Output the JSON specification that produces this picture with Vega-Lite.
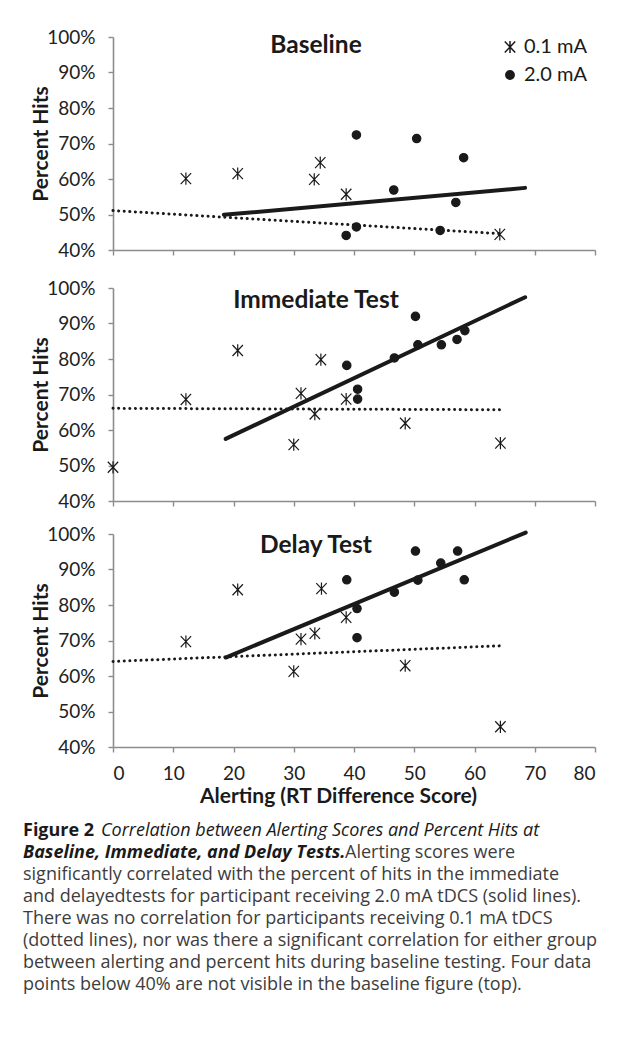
{
  "$schema": "https://vega.github.io/schema/vega-lite/v6.json",
  "background": "white",
  "padding": {"left": 23, "top": 28, "right": 5, "bottom": 5},
  "config": {
    "font": "Lato",
    "view": {"stroke": null},
    "axis": {"grid": false, "domainColor": "#8c8c8c", "domainWidth": 1.6, "tickColor": "#8c8c8c", "tickWidth": 1.4, "tickSize": 5, "labelFont": "Lato", "labelFontSize": 19, "labelColor": "#222222", "titleFont": "Lato", "titleFontSize": 21, "titleFontWeight": "bold", "titleColor": "#1a1a1a"},
    "title": {"font": "Lato", "fontSize": 24.5, "fontWeight": "bold", "color": "#1a1a1a"}
  },
  "datasets": {
    "pts": [
      {"panel": "Baseline", "group": "0.1 mA", "x": 12.1, "y": 0.601},
      {"panel": "Baseline", "group": "0.1 mA", "x": 20.7, "y": 0.615},
      {"panel": "Baseline", "group": "0.1 mA", "x": 33.4, "y": 0.599},
      {"panel": "Baseline", "group": "0.1 mA", "x": 34.4, "y": 0.646},
      {"panel": "Baseline", "group": "0.1 mA", "x": 38.7, "y": 0.557},
      {"panel": "Baseline", "group": "0.1 mA", "x": 64.2, "y": 0.444},
      {"panel": "Baseline", "group": "2.0 mA", "x": 40.4, "y": 0.724},
      {"panel": "Baseline", "group": "2.0 mA", "x": 50.4, "y": 0.714},
      {"panel": "Baseline", "group": "2.0 mA", "x": 58.2, "y": 0.660},
      {"panel": "Baseline", "group": "2.0 mA", "x": 46.6, "y": 0.569},
      {"panel": "Baseline", "group": "2.0 mA", "x": 56.9, "y": 0.534},
      {"panel": "Baseline", "group": "2.0 mA", "x": 40.4, "y": 0.465},
      {"panel": "Baseline", "group": "2.0 mA", "x": 38.7, "y": 0.441},
      {"panel": "Baseline", "group": "2.0 mA", "x": 54.3, "y": 0.455},
      {"panel": "Immediate", "group": "0.1 mA", "x": 0.0, "y": 0.495},
      {"panel": "Immediate", "group": "0.1 mA", "x": 12.1, "y": 0.686},
      {"panel": "Immediate", "group": "0.1 mA", "x": 20.7, "y": 0.824},
      {"panel": "Immediate", "group": "0.1 mA", "x": 34.5, "y": 0.798},
      {"panel": "Immediate", "group": "0.1 mA", "x": 31.2, "y": 0.703},
      {"panel": "Immediate", "group": "0.1 mA", "x": 33.5, "y": 0.645},
      {"panel": "Immediate", "group": "0.1 mA", "x": 30.0, "y": 0.559},
      {"panel": "Immediate", "group": "0.1 mA", "x": 38.7, "y": 0.687},
      {"panel": "Immediate", "group": "0.1 mA", "x": 48.5, "y": 0.619},
      {"panel": "Immediate", "group": "0.1 mA", "x": 64.3, "y": 0.563},
      {"panel": "Immediate", "group": "2.0 mA", "x": 50.2, "y": 0.920},
      {"panel": "Immediate", "group": "2.0 mA", "x": 50.6, "y": 0.840},
      {"panel": "Immediate", "group": "2.0 mA", "x": 54.5, "y": 0.840},
      {"panel": "Immediate", "group": "2.0 mA", "x": 57.1, "y": 0.855},
      {"panel": "Immediate", "group": "2.0 mA", "x": 58.4, "y": 0.880},
      {"panel": "Immediate", "group": "2.0 mA", "x": 46.7, "y": 0.803},
      {"panel": "Immediate", "group": "2.0 mA", "x": 38.8, "y": 0.782},
      {"panel": "Immediate", "group": "2.0 mA", "x": 40.6, "y": 0.715},
      {"panel": "Immediate", "group": "2.0 mA", "x": 40.6, "y": 0.687},
      {"panel": "Delay", "group": "0.1 mA", "x": 12.1, "y": 0.697},
      {"panel": "Delay", "group": "0.1 mA", "x": 20.7, "y": 0.843},
      {"panel": "Delay", "group": "0.1 mA", "x": 34.6, "y": 0.846},
      {"panel": "Delay", "group": "0.1 mA", "x": 31.2, "y": 0.704},
      {"panel": "Delay", "group": "0.1 mA", "x": 33.5, "y": 0.720},
      {"panel": "Delay", "group": "0.1 mA", "x": 38.7, "y": 0.765},
      {"panel": "Delay", "group": "0.1 mA", "x": 30.0, "y": 0.613},
      {"panel": "Delay", "group": "0.1 mA", "x": 48.5, "y": 0.629},
      {"panel": "Delay", "group": "0.1 mA", "x": 64.3, "y": 0.457},
      {"panel": "Delay", "group": "2.0 mA", "x": 50.2, "y": 0.952},
      {"panel": "Delay", "group": "2.0 mA", "x": 57.2, "y": 0.952},
      {"panel": "Delay", "group": "2.0 mA", "x": 54.4, "y": 0.918},
      {"panel": "Delay", "group": "2.0 mA", "x": 58.3, "y": 0.871},
      {"panel": "Delay", "group": "2.0 mA", "x": 50.6, "y": 0.870},
      {"panel": "Delay", "group": "2.0 mA", "x": 46.7, "y": 0.836},
      {"panel": "Delay", "group": "2.0 mA", "x": 38.8, "y": 0.871},
      {"panel": "Delay", "group": "2.0 mA", "x": 40.5, "y": 0.790},
      {"panel": "Delay", "group": "2.0 mA", "x": 40.5, "y": 0.708}
    ],
    "fits": [
      {"panel": "Baseline", "group": "2.0 mA", "x": 18.4, "y": 0.499},
      {"panel": "Baseline", "group": "2.0 mA", "x": 68.4, "y": 0.575},
      {"panel": "Baseline", "group": "0.1 mA", "x": 0.0, "y": 0.511},
      {"panel": "Baseline", "group": "0.1 mA", "x": 64.2, "y": 0.446},
      {"panel": "Immediate", "group": "2.0 mA", "x": 18.7, "y": 0.575},
      {"panel": "Immediate", "group": "2.0 mA", "x": 68.4, "y": 0.974},
      {"panel": "Immediate", "group": "0.1 mA", "x": 0.0, "y": 0.661},
      {"panel": "Immediate", "group": "0.1 mA", "x": 64.2, "y": 0.657},
      {"panel": "Delay", "group": "2.0 mA", "x": 18.7, "y": 0.652},
      {"panel": "Delay", "group": "2.0 mA", "x": 68.5, "y": 1.004},
      {"panel": "Delay", "group": "0.1 mA", "x": 0.0, "y": 0.641},
      {"panel": "Delay", "group": "0.1 mA", "x": 64.3, "y": 0.685}
    ],
    "caption": [
      {"line": 1, "style": "bold", "text": "Figure 2"},
      {"line": 1, "style": "italic", "text": "Correlation between Alerting Scores and Percent Hits at"},
      {"line": 2, "style": "bolditalic", "text": "Baseline, Immediate, and Delay Tests."},
      {"line": 2, "style": "inline", "text": "Alerting scores were"},
      {"line": 3, "style": "regular", "text": "significantly correlated with the percent of hits in the immediate"},
      {"line": 4, "style": "regular", "text": "and delayedtests for participant receiving 2.0 mA tDCS (solid lines)."},
      {"line": 5, "style": "regular", "text": "There was no correlation for participants receiving 0.1 mA tDCS"},
      {"line": 6, "style": "regular", "text": "(dotted lines), nor was there a significant correlation for either group"},
      {"line": 7, "style": "regular", "text": "between alerting and percent hits during baseline testing. Four data"},
      {"line": 8, "style": "regular", "text": "points below 40% are not visible in the baseline figure (top)."}
    ]
  },
  "spacing": 14,
  "vconcat": [
    {
      "spacing": 19,
      "resolve": {"legend": {"shape": "independent", "fill": "independent", "size": "independent"}},
      "vconcat": [
        {
          "width": 482, "height": 213,
          "title": {"text": "Baseline", "offset": -30, "dx": -38, "anchor": "middle"},
          "encoding": {
            "x": {"field": "x", "type": "quantitative", "scale": {"domain": [0, 80], "nice": false}, "axis": {"values": [0, 10, 20, 30, 40, 50, 60, 70, 80], "labels": false, "title": null}},
            "y": {"field": "y", "type": "quantitative", "scale": {"domain": [0.4, 1], "nice": false, "zero": false}, "axis": {"values": [0.4, 0.5, 0.6, 0.7, 0.8, 0.9, 1], "format": ".0%", "title": "Percent Hits", "labelPadding": 13, "titlePadding": -5}}
          },
          "layer": [
            {"data": {"name": "fits"}, "transform": [{"filter": "datum.panel === 'Baseline' && datum.group === '0.1 mA'"}], "mark": {"type": "line", "color": "#1a1a1a", "strokeWidth": 3, "strokeDash": [0.1, 5.5], "strokeCap": "round", "clip": false}},
            {"data": {"name": "fits"}, "transform": [{"filter": "datum.panel === 'Baseline' && datum.group === '2.0 mA'"}], "mark": {"type": "line", "color": "#1a1a1a", "strokeWidth": 4, "strokeCap": "round", "clip": false}},
            {"data": {"name": "pts"}, "transform": [{"filter": "datum.panel === 'Baseline'"}],
             "mark": {"type": "point", "filled": true, "stroke": "#1a1a1a", "strokeWidth": 1.2, "opacity": 1},
             "encoding": {
               "shape": {"field": "group", "type": "nominal", "scale": {"domain": ["0.1 mA", "2.0 mA"], "range": ["M-0.85,-0.9L0.85,0.9M-0.85,0.9L0.85,-0.9M0,-1L0,1", "circle"]},
                 "legend": {"title": null, "orient": "none", "legendX": 387, "legendY": 0, "labelFontSize": 20, "labelColor": "#1a1a1a", "labelFont": "Lato", "rowPadding": 8, "labelOffset": 4, "symbolOpacity": 1, "encode": {"symbols": {"update": {"stroke": {"value": "#1a1a1a"}, "strokeWidth": {"value": 1.2}}}}}},
               "fill": {"field": "group", "type": "nominal", "scale": {"domain": ["0.1 mA", "2.0 mA"], "range": ["transparent", "#1a1a1a"]},
                 "legend": {"title": null, "orient": "none", "legendX": 387, "legendY": 0, "labelFontSize": 20, "labelColor": "#1a1a1a", "labelFont": "Lato", "rowPadding": 8, "labelOffset": 4, "symbolOpacity": 1, "encode": {"symbols": {"update": {"stroke": {"value": "#1a1a1a"}, "strokeWidth": {"value": 1.2}}}}}},
               "size": {"field": "group", "type": "nominal", "scale": {"domain": ["0.1 mA", "2.0 mA"], "range": [150, 70]},
                 "legend": {"title": null, "orient": "none", "legendX": 387, "legendY": 0, "labelFontSize": 20, "labelColor": "#1a1a1a", "labelFont": "Lato", "rowPadding": 8, "labelOffset": 4, "symbolOpacity": 1, "encode": {"symbols": {"update": {"stroke": {"value": "#1a1a1a"}, "strokeWidth": {"value": 1.2}}}}}}
             }}
          ]
        },
        {
          "spacing": 13,
          "vconcat": [
            {
              "width": 482, "height": 213,
              "title": {"text": "Immediate Test", "offset": -34, "dx": -38, "anchor": "middle"},
              "encoding": {
                "x": {"field": "x", "type": "quantitative", "scale": {"domain": [0, 80], "nice": false}, "axis": {"values": [0, 10, 20, 30, 40, 50, 60, 70, 80], "labels": false, "title": null}},
                "y": {"field": "y", "type": "quantitative", "scale": {"domain": [0.4, 1], "nice": false, "zero": false}, "axis": {"values": [0.4, 0.5, 0.6, 0.7, 0.8, 0.9, 1], "format": ".0%", "title": "Percent Hits", "labelPadding": 13, "titlePadding": -5}}
              },
              "layer": [
                {"data": {"name": "fits"}, "transform": [{"filter": "datum.panel === 'Immediate' && datum.group === '0.1 mA'"}], "mark": {"type": "line", "color": "#1a1a1a", "strokeWidth": 3, "strokeDash": [0.1, 5.5], "strokeCap": "round", "clip": false}},
                {"data": {"name": "fits"}, "transform": [{"filter": "datum.panel === 'Immediate' && datum.group === '2.0 mA'"}], "mark": {"type": "line", "color": "#1a1a1a", "strokeWidth": 4, "strokeCap": "round", "clip": false}},
                {"data": {"name": "pts"}, "transform": [{"filter": "datum.panel === 'Immediate'"}],
                 "mark": {"type": "point", "filled": true, "stroke": "#1a1a1a", "strokeWidth": 1.2, "opacity": 1},
                 "encoding": {
                   "shape": {"field": "group", "type": "nominal", "scale": {"domain": ["0.1 mA", "2.0 mA"], "range": ["M-0.85,-0.9L0.85,0.9M-0.85,0.9L0.85,-0.9M0,-1L0,1", "circle"]}, "legend": null},
                   "fill": {"field": "group", "type": "nominal", "scale": {"domain": ["0.1 mA", "2.0 mA"], "range": ["transparent", "#1a1a1a"]}, "legend": null},
                   "size": {"field": "group", "type": "nominal", "scale": {"domain": ["0.1 mA", "2.0 mA"], "range": [150, 70]}, "legend": null}
                 }}
              ]
            },
            {
              "width": 482, "height": 213,
              "title": {"text": "Delay Test", "offset": -34, "dx": -38, "anchor": "middle"},
              "encoding": {
                "x": {"field": "x", "type": "quantitative", "scale": {"domain": [0, 80], "nice": false}, "axis": {"values": [0, 10, 20, 30, 40, 50, 60, 70, 80], "title": "Alerting (RT Difference Score)", "labelPadding": 12, "titlePadding": 2, "titleX": 225}},
                "y": {"field": "y", "type": "quantitative", "scale": {"domain": [0.4, 1], "nice": false, "zero": false}, "axis": {"values": [0.4, 0.5, 0.6, 0.7, 0.8, 0.9, 1], "format": ".0%", "title": "Percent Hits", "labelPadding": 13, "titlePadding": -5}}
              },
              "layer": [
                {"data": {"name": "fits"}, "transform": [{"filter": "datum.panel === 'Delay' && datum.group === '0.1 mA'"}], "mark": {"type": "line", "color": "#1a1a1a", "strokeWidth": 3, "strokeDash": [0.1, 5.5], "strokeCap": "round", "clip": false}},
                {"data": {"name": "fits"}, "transform": [{"filter": "datum.panel === 'Delay' && datum.group === '2.0 mA'"}], "mark": {"type": "line", "color": "#1a1a1a", "strokeWidth": 4, "strokeCap": "round", "clip": false}},
                {"data": {"name": "pts"}, "transform": [{"filter": "datum.panel === 'Delay'"}],
                 "mark": {"type": "point", "filled": true, "stroke": "#1a1a1a", "strokeWidth": 1.2, "opacity": 1},
                 "encoding": {
                   "shape": {"field": "group", "type": "nominal", "scale": {"domain": ["0.1 mA", "2.0 mA"], "range": ["M-0.85,-0.9L0.85,0.9M-0.85,0.9L0.85,-0.9M0,-1L0,1", "circle"]}, "legend": null},
                   "fill": {"field": "group", "type": "nominal", "scale": {"domain": ["0.1 mA", "2.0 mA"], "range": ["transparent", "#1a1a1a"]}, "legend": null},
                   "size": {"field": "group", "type": "nominal", "scale": {"domain": ["0.1 mA", "2.0 mA"], "range": [150, 70]}, "legend": null}
                 }}
              ]
            }
          ]
        }
      ]
    },
    {
      "width": 482, "height": 176,
      "data": {"name": "caption"},
      "encoding": {
        "y": {"field": "line", "type": "quantitative", "scale": {"domain": [0.5, 8.5], "reverse": true}, "axis": null},
        "x": {"datum": 0, "type": "quantitative", "scale": {"domain": [0, 1]}, "axis": null},
        "text": {"field": "text"}
      },
      "layer": [
        {"transform": [{"filter": "datum.style === 'bold'"}], "mark": {"type": "text", "align": "left", "baseline": "middle", "font": "Open Sans", "fontSize": 18, "fontWeight": "bold", "color": "#1a1a1a", "dx": -90}},
        {"transform": [{"filter": "datum.style === 'italic'"}], "mark": {"type": "text", "align": "left", "baseline": "middle", "font": "Open Sans", "fontSize": 18, "fontStyle": "italic", "color": "#1a1a1a", "dx": -12}},
        {"transform": [{"filter": "datum.style === 'bolditalic'"}], "mark": {"type": "text", "align": "left", "baseline": "middle", "font": "Open Sans", "fontSize": 18, "fontWeight": "bold", "fontStyle": "italic", "color": "#1a1a1a", "dx": -90}},
        {"transform": [{"filter": "datum.style === 'inline'"}], "mark": {"type": "text", "align": "left", "baseline": "middle", "font": "Open Sans", "fontSize": 18, "color": "#3d3d3d", "dx": 232}},
        {"transform": [{"filter": "datum.style === 'regular'"}], "mark": {"type": "text", "align": "left", "baseline": "middle", "font": "Open Sans", "fontSize": 18, "color": "#3d3d3d", "dx": -90}}
      ]
    }
  ]
}
